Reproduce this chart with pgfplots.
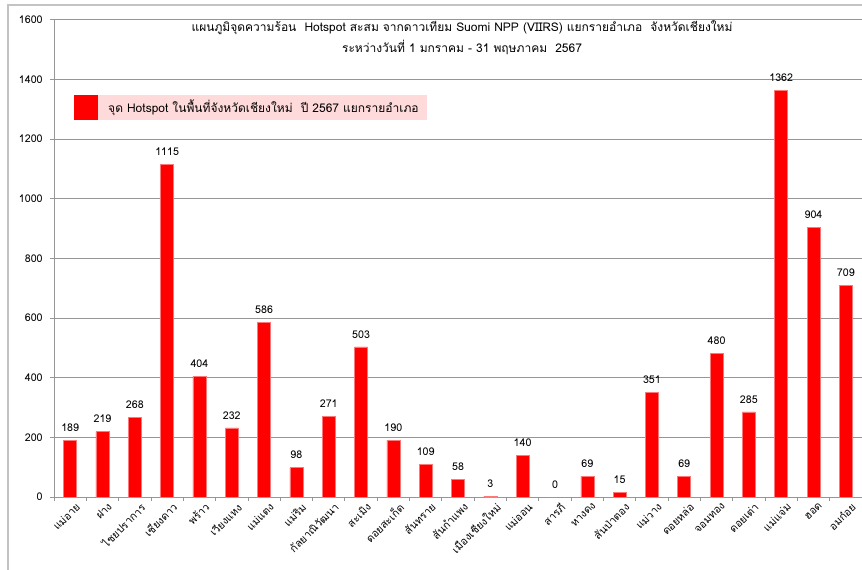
\documentclass[border=0pt]{standalone}
\usepackage{fontspec}
\setmainfont[Script=Thai]{Loma}
\usepackage{pgfplots}
\pgfplotsset{compat=1.18}
\definecolor{barred}{RGB}{255,0,0}
\definecolor{baredge}{RGB}{255,120,120}
\definecolor{gridgray}{RGB}{150,150,150}
\definecolor{legpink}{RGB}{255,218,218}
\definecolor{framegray}{RGB}{195,195,195}
\begin{document}
\begin{tikzpicture}
\useasboundingbox (0pt,0pt) rectangle (646.5pt,426.75pt);
\clip (0pt,0pt) rectangle (646.5pt,426.75pt);
\draw[framegray, line width=1.1pt] (6pt,-10pt) rectangle (700pt,423pt);
\begin{axis}[
  at={(40.5pt,54pt)}, anchor=south west,
  scale only axis, width=606pt, height=358.1pt,
  xmin=-0.5, xmax=24.5, ymin=0, ymax=1600,
  ybar, bar width=9.75pt,
  axis x line*=bottom, axis y line*=left,
  axis line style={-, draw=gridgray, line width=0.6pt},
  ymajorgrids, major grid style={draw=gridgray, line width=0.6pt},
  ytick={0,200,...,1600},
  xtick={-0.5,0.5,...,24.5}, xticklabels={},
  extra x ticks={0,...,24},
  extra x tick labels={แม่อาย,ฝาง,ไชยปราการ,เชียงดาว,พร้าว,เวียงแหง,แม่แตง,แม่ริม,กัลยาณิวัฒนา,สะเมิง,ดอยสะเก็ด,สันทราย,สันกำแพง,เมืองเชียงใหม่,แม่ออน,สารภี,หางดง,สันป่าตอง,แม่วาง,ดอยหล่อ,จอมทอง,ดอยเต่า,แม่แจ่ม,ฮอด,อมก๋อย},
  extra x tick style={major tick length=0pt, grid=none},
  tick align=outside, major tick length=3pt,
  tick style={draw=gridgray, line width=0.6pt},
  x tick label style={rotate=45, anchor=north east, font=\fontsize{8}{9}\selectfont, inner sep=1pt, yshift=-4pt, xshift=1pt},
  y tick label style={font=\fontsize{8}{9}\selectfont, xshift=-2pt},
  /pgf/number format/assume math mode=true,
  /pgf/number format/1000 sep={},
  nodes near coords,
  every node near coord/.append style={font=\fontsize{8}{9}\selectfont, black, yshift=3pt},
  title={แผนภูมิจุดความร้อน\ \ Hotspot สะสม จากดาวเทียม Suomi NPP (VIIRS) แยกรายอำเภอ\ \ จังหวัดเชียงใหม่\\ระหว่างวันที่ 1 มกราคม - 31 พฤษภาคม\ \ 2567},
  title style={at={(0.505,0.99)}, anchor=north, align=center, font=\fontsize{9}{15.75}\selectfont},
  legend image code/.code={\fill[barred] (0pt,-9pt) rectangle (17.25pt,9pt);},
  legend style={at={(0.0248,0.842)}, anchor=north west, fill=legpink, draw=none,
    inner sep=0pt, outer sep=0pt, font=\fontsize{9}{10}\selectfont},
]
\addplot[fill=barred, draw=baredge, line width=0.4pt] coordinates {
(0,189) (1,219) (2,268) (3,1115) (4,404) (5,232) (6,586) (7,98) (8,271) (9,503)
(10,190) (11,109) (12,58) (13,3) (14,140) (15,0) (16,69) (17,15) (18,351) (19,69)
(20,480) (21,285) (22,1362) (23,904) (24,709)};
\addlegendentry{\makebox[243pt][l]{\hspace*{6pt}จุด Hotspot ในพื้นที่จังหวัดเชียงใหม่\ \ ปี 2567 แยกรายอำเภอ}}
\end{axis}
\end{tikzpicture}
\end{document}
